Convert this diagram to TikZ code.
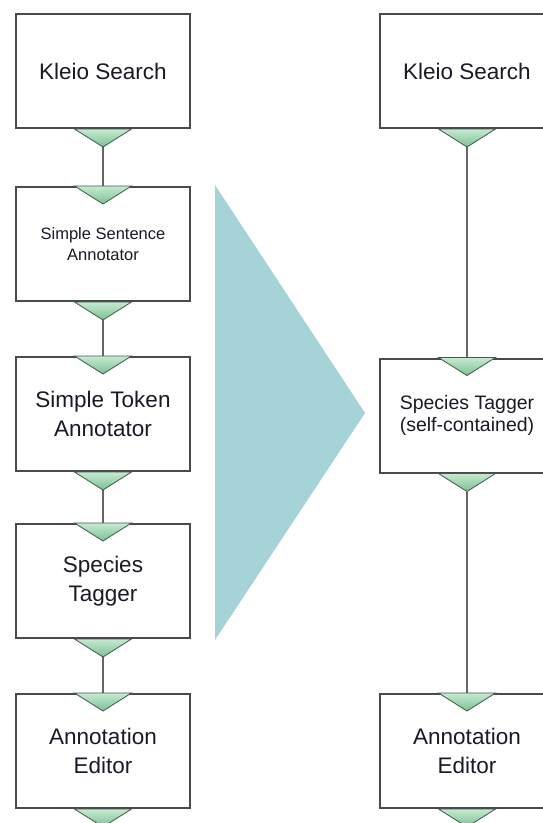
\documentclass[tikz,border=0pt]{standalone}
\usepackage{fontspec}
\setmainfont{Liberation Sans}
\definecolor{boxline}{HTML}{4A4A4A}
\definecolor{conline}{HTML}{666666}
\definecolor{txt}{HTML}{1A1A26}
\definecolor{bigarrow}{HTML}{A6D3D7}
\definecolor{trilight}{HTML}{C6EAD1}
\definecolor{tridark}{HTML}{7DBF94}
\definecolor{triline}{HTML}{3F5A4A}
\tikzset{
  stepbox/.style={draw=boxline, line width=2pt, fill=white, minimum width=174pt, minimum height=114pt,
    inner sep=0pt, align=center, text=txt, font=\fontsize{22.5}{29}\selectfont},
  smalltext/.style={font=\fontsize{16.5}{21}\selectfont},
  midtext/.style={font=\fontsize{19.5}{22}\selectfont},
  tri/.style={draw=triline, line width=0.8pt, top color=trilight, bottom color=tridark, line join=miter},
  conn/.style={draw=conline, line width=2.2pt}
}
\newcommand\downtri[1]{\path[tri] ([xshift=-28.5pt]#1) -- ([xshift=28.5pt]#1) -- ([yshift=-18pt]#1) -- cycle;}
\begin{document}
\begin{tikzpicture}[x=1pt,y=-1pt]
\useasboundingbox (0,0) rectangle (543,823);
\clip (0,0) rectangle (543,823);
\fill[white] (0,0) rectangle (543,823);
% big transition arrow
\fill[bigarrow] (215,185) -- (365,413) -- (215,640) -- cycle;
% left column
\node[stepbox] (l1) at (103,71) {Kleio Search};
\node[stepbox, smalltext] (l2) at (103,244) {Simple Sentence\\Annotator};
\node[stepbox] (l3) at (103,414) {Simple Token\\Annotator};
\node[stepbox] (l4) at (103,581) {Species\\Tagger};
\node[stepbox] (l5) at (103,751) {Annotation\\Editor};
% right column
\node[stepbox] (r1) at (467,71) {Kleio Search};
\node[stepbox, midtext] (r2) at (467,415.5) {Species Tagger\\(self-contained)};
\node[stepbox] (r3) at (467,751) {Annotation\\Editor};
% triangle tips below boxes
\foreach \n in {l1,l2,l3,l4,l5,r1,r2,r3}{
  \coordinate (\n tip) at ([yshift=-18pt]\n.south);
}
% connectors
\draw[conn] (l1tip) -- (l2.north);
\draw[conn] (l2tip) -- (l3.north);
\draw[conn] (l3tip) -- (l4.north);
\draw[conn] (l4tip) -- (l5.north);
\draw[conn] (r1tip) -- (r2.north);
\draw[conn] (r2tip) -- (r3.north);
% ports
\foreach \n in {l1,l2,l3,l4,l5,r1,r2,r3}{
  \downtri{\n.south}
}
\foreach \n in {l2,l3,l4,l5,r2,r3}{
  \downtri{\n.north}
}
\end{tikzpicture}
\end{document}
